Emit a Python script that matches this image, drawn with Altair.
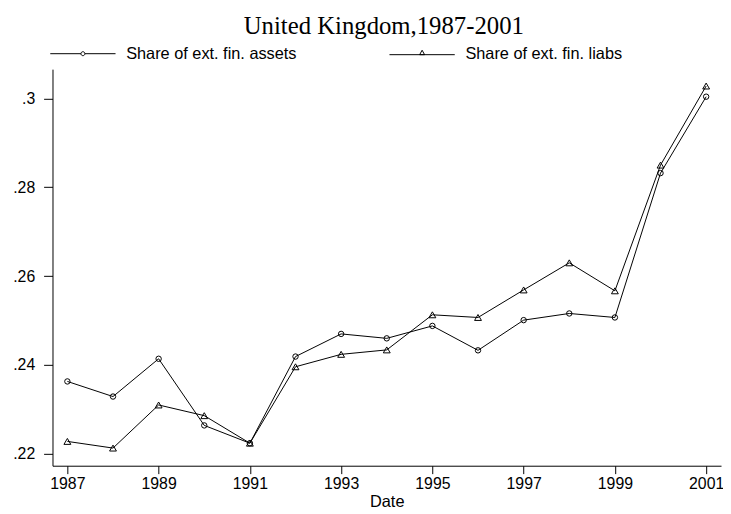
import altair as alt
import pandas as pd

years = list(range(1987, 2002))
assets = [0.2363, 0.2329, 0.2414, 0.2264, 0.2224, 0.2419, 0.2470, 0.2460,
          0.2488, 0.2433, 0.2501, 0.2516, 0.2507, 0.2832, 0.3004]
liabs = [0.2228, 0.2213, 0.2310, 0.2286, 0.2224, 0.2396, 0.2424, 0.2434,
         0.2513, 0.2507, 0.2569, 0.2630, 0.2567, 0.2850, 0.3028]
series_names = ["Share of ext. fin. assets", "Share of ext. fin. liabs"]
y_ticks = [0.22, 0.24, 0.26, 0.28, 0.30]
x_ticks = list(range(1987, 2002, 2))

rows = []
for yr, a, l in zip(years, assets, liabs):
    rows.append({"year": yr, "value": a, "series": series_names[0]})
    rows.append({"year": yr, "value": l, "series": series_names[1]})
df = pd.DataFrame(rows)

FONT = "Liberation Sans"

x_enc = alt.X("year:Q", scale=alt.Scale(domain=[1986.674, 2001.326], nice=False, zero=False),
              axis=alt.Axis(values=x_ticks, format="d", title="Date", labelPadding=2, grid=False,
                            tickSize=8, titlePadding=2, titleFontWeight="normal", titleFontSize=16.5,
                            titleFont=FONT))
y_enc = alt.Y("value:Q", scale=alt.Scale(domain=[0.21733, 0.3066], nice=False, zero=False),
              axis=alt.Axis(values=y_ticks, title=None, labelPadding=9, grid=False, tickSize=9,
                            labelExpr="substring(format(datum.value, '.2~f'), 1)"))

base = alt.Chart(df)

lines = base.mark_line(color="black", strokeWidth=1).encode(
    x=x_enc, y=y_enc, detail="series:N")

points = base.mark_point(filled=False, color="black", strokeWidth=1, opacity=1).encode(
    x=x_enc, y=y_enc,
    shape=alt.Shape("series:N", scale=alt.Scale(domain=series_names, range=["circle", "triangle-up"]),
                    legend=None),
    size=alt.Size("series:N", scale=alt.Scale(domain=series_names, range=[30, 48]), legend=None),
)

circ_path = "M-1,0L11.4,0M13,0L25.4,0M11.4,0A0.8,0.8,0,1,0,13,0A0.8,0.8,0,1,0,11.4,0"
tri_path = "M-1,0.4L25.4,0.4M11.2,0.4L13.2,0.4L12.2,-1.4Z"

legend_layer = base.mark_point(filled=False, color="black", strokeWidth=1, opacity=1).encode(
    x=x_enc, y=y_enc,
    shape=alt.Shape("series:N", title=None,
                    scale=alt.Scale(domain=series_names, range=[circ_path, tri_path]),
                    legend=alt.Legend(orient="none", direction="horizontal", legendX=-8, legendY=-24,
                                      symbolSize=25, symbolStrokeWidth=1, symbolStrokeColor="black",
                                      symbolOpacity=1, labelLimit=400,
                                      labelOffset=66, columnPadding=88, labelFont=FONT,
                                      labelFontSize=16.5, labelColor="black", padding=0)),
).transform_filter("false")

chart = alt.layer(lines, points, legend_layer).resolve_scale(shape="independent").properties(
    width=676, height=401,
    background="white",
    autosize=alt.AutoSizeParams(type="none"),
    padding={"left": 45, "top": 59, "right": 2, "bottom": 46},
    title=alt.TitleParams("United Kingdom,1987-2001", font="Liberation Serif", fontSize=25,
                          fontWeight="normal", color="black", anchor="middle", offset=7, dx=-3),
).configure_view(stroke=None).configure_axis(
    domainColor="black", domainWidth=1, tickColor="black", tickWidth=1,
    labelFont=FONT, labelFontSize=16, labelColor="black", grid=False, titleColor="black",
)

chart.save("out.html", embed_options={"renderer": "svg", "actions": False})
